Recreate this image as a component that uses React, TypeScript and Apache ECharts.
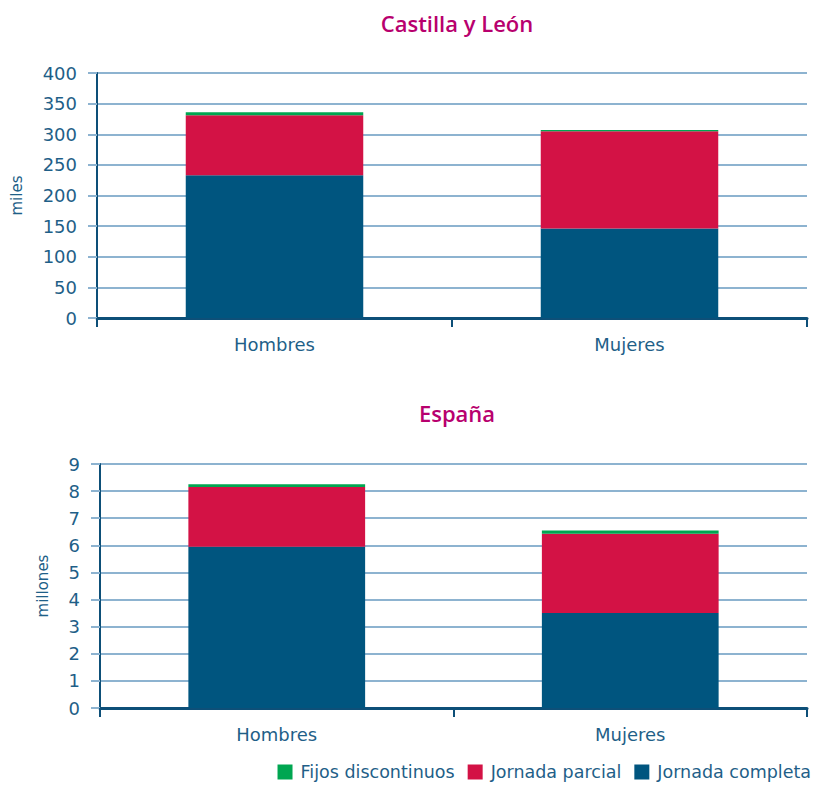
import React, { useEffect, useRef } from "react";
import * as echarts from "echarts";

const categories = ["Hombres", "Mujeres"];
const seriesNames = ["Fijos discontinuos", "Jornada parcial", "Jornada completa"];
const clCompleta = [233, 146];
const clParcial = [98, 159];
const clFijos = [5, 2];
const esCompleta = [5.95, 3.5];
const esParcial = [2.2, 2.93];
const esFijos = [0.1, 0.12];
const clTicks = { min: 0, max: 400, interval: 50 };
const esTicks = { min: 0, max: 9, interval: 1 };

const GREEN = "#00a651";
const RED = "#d31245";
const BLUE = "#00557f";
const TEXT = "#1f5f88";
const AXIS = "#0d4f78";
const GRID = "#8db3d0";
const TITLE = "#b8006e";
const FONT = "'DejaVu Sans', sans-serif";
const TFONT = "'Open Sans', 'Noto Sans', sans-serif";

export default function App() {
  const ref = useRef<HTMLDivElement>(null);
  useEffect(() => {
    if (!ref.current) return;
    const chart = echarts.init(ref.current, null, { renderer: "svg" });
    const xAxisBase = (gridIndex: number) => ({
      type: "category",
      gridIndex,
      data: categories,
      axisLine: { lineStyle: { color: AXIS, width: 3 } },
      axisTick: { show: true, length: 9, lineStyle: { color: AXIS, width: 2 } },
      axisLabel: { color: TEXT, fontSize: 18, fontFamily: FONT, margin: 17 },
    });
    const yAxisBase = (gridIndex: number, t: any, name: string, gap: number) => ({
      type: "value",
      gridIndex,
      min: t.min,
      max: t.max,
      interval: t.interval,
      name,
      nameLocation: "middle",
      nameRotate: 90,
      nameGap: gap,
      nameTextStyle: { color: TEXT, fontSize: 15, fontFamily: FONT },
      axisLine: { show: true, lineStyle: { color: AXIS, width: 2 } },
      axisTick: { show: true, length: 9, lineStyle: { color: GRID, width: 2 } },
      axisLabel: { color: TEXT, fontSize: 18, fontFamily: FONT, margin: 20 },
      splitLine: { lineStyle: { color: GRID, width: 2 } },
    });
    const bar = (name: string, data: number[], color: string, xi: number) => ({
      name,
      type: "bar",
      stack: "s" + xi,
      xAxisIndex: xi,
      yAxisIndex: xi,
      data,
      barWidth: "50%",
      itemStyle: { color },
    });
    chart.setOption({
      animation: false,
      textStyle: { fontFamily: FONT },
      title: [
        { text: "Castilla y León", left: 452, top: 7, textAlign: "center", textStyle: { color: TITLE, fontSize: 22, fontWeight: 600, fontFamily: TFONT } },
        { text: "España", left: 452, top: 397, textAlign: "center", textStyle: { color: TITLE, fontSize: 22, fontWeight: 600, fontFamily: TFONT } },
      ],
      legend: {
        data: seriesNames,
        right: 3,
        bottom: 0,
        itemWidth: 15,
        itemHeight: 15,
        itemGap: 13,
        icon: "rect",
        textStyle: { color: TEXT, fontSize: 17.5, fontFamily: FONT, padding: [0, 0, 0, 3] },
      },
      grid: [
        { left: 97, right: 12, top: 73, height: 245, outerBoundsMode: "none", containLabel: false },
        { left: 100, right: 12, top: 464, height: 244, outerBoundsMode: "none", containLabel: false },
      ],
      xAxis: [xAxisBase(0), xAxisBase(1)],
      yAxis: [
        yAxisBase(0, clTicks, "miles", 73),
        yAxisBase(1, esTicks, "millones", 50),
      ],
      series: [
        bar("Jornada completa", clCompleta, BLUE, 0),
        bar("Jornada parcial", clParcial, RED, 0),
        bar("Fijos discontinuos", clFijos, GREEN, 0),
        bar("Jornada completa", esCompleta, BLUE, 1),
        bar("Jornada parcial", esParcial, RED, 1),
        bar("Fijos discontinuos", esFijos, GREEN, 1),
      ],
    });
    return () => chart.dispose();
  }, []);
  return <div ref={ref} style={{ width: 819, height: 786, position: "absolute", left: 0, top: 0 }} />;
}
